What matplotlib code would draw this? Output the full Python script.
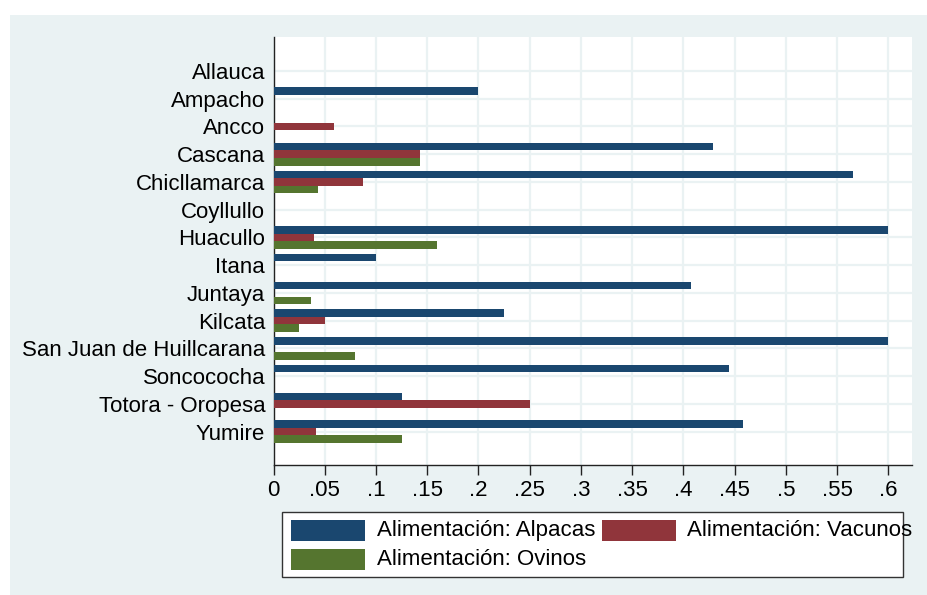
import matplotlib
matplotlib.use("Agg")
import matplotlib.pyplot as plt
from matplotlib.patches import Rectangle
import numpy as np

plt.rcParams['font.family'] = ['Liberation Sans', 'DejaVu Sans']

categories = ["Allauca", "Ampacho", "Ancco", "Cascana", "Chicllamarca", "Coyllullo",
              "Huacullo", "Itana", "Juntaya", "Kilcata", "San Juan de Huillcarana",
              "Soncococha", "Totora - Oropesa", "Yumire"]
alpacas = [0, 0.2, 0, 0.4286, 0.5652, 0, 0.6, 0.1, 0.4074, 0.225, 0.6, 0.4444, 0.125, 0.4583]
vacunos = [0, 0, 0.0588, 0.1429, 0.0870, 0, 0.04, 0, 0, 0.05, 0, 0, 0.25, 0.0417]
ovinos = [0, 0, 0, 0.1429, 0.0435, 0, 0.16, 0, 0.037, 0.025, 0.08, 0, 0, 0.125]
series_labels = ["Alimentación: Alpacas", "Alimentación: Vacunos", "Alimentación: Ovinos"]
xticks = [0, .05, .1, .15, .2, .25, .3, .35, .4, .45, .5, .55, .6]

colors = ["#1a476f", "#90353b", "#55752f"]
bg = "#EAF2F3"
W, H = 927, 595
FS = 16

fig = plt.figure(figsize=(W / 100, H / 100), dpi=100)
fig.patch.set_facecolor("white")
fig.patches.append(Rectangle((10 / W, 0), 1 - 10 / W, 1 - 15 / H, transform=fig.transFigure,
                             facecolor=bg, edgecolor="none", zorder=-10))

left, right, top, bottom = 273.5, 911.7, 37, 465
ax = fig.add_axes([left / W, 1 - bottom / H, (right - left) / W, (bottom - top) / H])
ax.set_facecolor("white")

y = np.arange(len(categories))
bh = 0.274
for vals, off, c in zip([alpacas, vacunos, ovinos], [-bh, 0, bh], colors):
    ax.barh(y + off, vals, height=bh, color=c, edgecolor="none", zorder=3)

ax.set_ylim(len(categories) - 1 + 1.2, -1.222)
ax.set_xlim(0, 0.6 + (911.7 - 888.3) / (888.3 - 273.5) * 0.6)

ax.set_yticks(y)
ax.set_yticklabels(categories, fontsize=FS)
ax.tick_params(axis='y', length=0, pad=6)
ax.set_xticks(xticks)
ax.set_xticklabels(["0" if v == 0 else ("%g" % v).lstrip("0") for v in xticks], fontsize=FS)
ax.tick_params(axis='x', length=7, width=1, pad=4, color="#222222")

for v in xticks:
    ax.axvline(v, color=bg, lw=1.6, zorder=1)
for yy in y:
    ax.axhline(yy, color=bg, lw=1.6, zorder=1)

for s in ["top", "right"]:
    ax.spines[s].set_visible(False)
for s in ["left", "bottom"]:
    ax.spines[s].set_color("#222222")
    ax.spines[s].set_linewidth(1)

# Legend box
def fx(px):
    return px / W

def fy(py):
    return 1 - py / H

fig.patches.append(Rectangle((fx(281.7), fy(577.3)), fx(902.7) - fx(281.7), fy(511.7) - fy(577.3),
                             transform=fig.transFigure, facecolor="white", edgecolor="#333333",
                             lw=1, zorder=1))
entries = [(291, 520, 376.7, series_labels[0], colors[0]),
           (602.3, 520, 687.3, series_labels[1], colors[1]),
           (291, 549.3, 376.7, series_labels[2], colors[2])]
for x0, y0, tx, lab, c in entries:
    fig.patches.append(Rectangle((fx(x0), fy(y0 + 20.5)), fx(x0 + 74) - fx(x0), fy(y0) - fy(y0 + 20.5),
                                 transform=fig.transFigure, facecolor=c, edgecolor="none", zorder=2))
for x0, y0, tx, lab, c in entries:
    fig.text(fx(tx), fy(y0 + 10.5), lab, fontsize=FS, ha="left", va="center", zorder=3)

fig.savefig("out.png", dpi=100)
